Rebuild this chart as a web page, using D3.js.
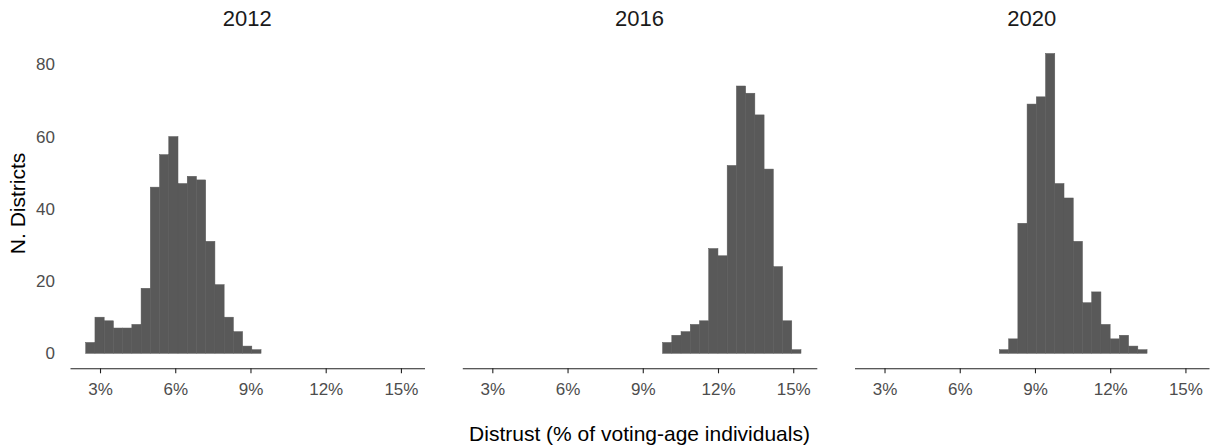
<!DOCTYPE html>
<html>
<head>
<meta charset="utf-8">
<script src="https://cdn.jsdelivr.net/npm/d3@7"></script>
<style>
  body { margin: 0; background: #fff; }
  svg { font-family: "Liberation Sans", Arial, Helvetica, sans-serif; }
</style>
</head>
<body>
<script>
// overall size of the picture
const width = 1217, height = 448;

// histogram bins (35 bins of equal width, in % of voting-age individuals)
const binStart = 2.43, binWidth = 0.368;
const years = [2012, 2016, 2020];

// counts per bin
const counts2012 = [3,10,9,7,7,8,18,46,55,60,47,49,48,31,19,10,6,2,1,0,0,0,0,0,0,0,0,0,0,0,0,0,0,0,0];
const counts2016 = [0,0,0,0,0,0,0,0,0,0,0,0,0,0,0,0,0,0,0,0,3,5,6,8,9,29,27,52,74,72,66,51,24,9,1];
const counts2020 = [0,0,0,0,0,0,0,0,0,0,0,0,0,0,1,4,36,69,71,83,47,43,31,14,17,8,4,5,2,1,0,0,0,0,0];

const xTicks = [3, 6, 9, 12, 15];
const yTicks = [0, 20, 40, 60, 80];

const countsByYear = { 2012: counts2012, 2016: counts2016, 2020: counts2020 };

// panel layout
const panelLeft = [70, 462.3, 854.5];
const panelWidth = 354.5;
const plotTop = 38.5, plotBottom = 368.3;

const svg = d3.select("body").append("svg")
  .attr("width", width)
  .attr("height", height);

// shared scales
const x = d3.scaleLinear().domain([1.803, 15.94]).range([0, panelWidth]);
const y = d3.scaleLinear().domain([-4.15, 87.15]).range([plotBottom, plotTop]);

years.forEach((year, i) => {
  const g = svg.append("g").attr("transform", `translate(${panelLeft[i]},0)`);

  // bins with their counts
  const bins = countsByYear[year].map((c, k) => ({
    x0: binStart + k * binWidth,
    x1: binStart + (k + 1) * binWidth,
    count: c
  })).filter(d => d.count > 0);

  // stroke in the same colour hides the seams between neighbouring bars
  g.selectAll("rect.bar")
    .data(bins)
    .enter()
    .append("rect")
    .attr("class", "bar")
    .attr("x", d => x(d.x0))
    .attr("width", d => x(d.x1) - x(d.x0))
    .attr("y", d => y(d.count))
    .attr("height", d => y(0) - y(d.count))
    .attr("fill", "#595959")
    .attr("stroke", "#595959")
    .attr("stroke-width", 0.5);

  // x axis
  const xAxis = g.append("g")
    .attr("transform", `translate(0,${plotBottom})`)
    .call(d3.axisBottom(x).tickValues(xTicks).tickFormat(d => d + "%")
      .tickSize(5).tickSizeOuter(0).tickPadding(10));
  xAxis.select(".domain").attr("stroke", "#222").attr("stroke-width", 1.1);
  xAxis.selectAll(".tick line").attr("stroke", "#222").attr("stroke-width", 1.1);
  xAxis.selectAll("text").attr("font-size", 17).attr("fill", "#4d4d4d")
    .attr("font-family", "Liberation Sans, Arial, sans-serif");

  // facet title
  g.append("text")
    .attr("x", panelWidth / 2)
    .attr("y", 26)
    .attr("text-anchor", "middle")
    .attr("font-size", 22)
    .attr("fill", "#1a1a1a")
    .text(year);

  // y axis labels only on the first panel
  if (i === 0) {
    const yAxis = g.append("g")
      .call(d3.axisLeft(y).tickValues(yTicks).tickSize(0).tickPadding(15));
    yAxis.select(".domain").remove();
    yAxis.selectAll("text").attr("font-size", 17).attr("fill", "#4d4d4d")
      .attr("font-family", "Liberation Sans, Arial, sans-serif");
  }
});

// axis titles
svg.append("text")
  .attr("x", (panelLeft[0] + panelLeft[2] + panelWidth) / 2)
  .attr("y", 441)
  .attr("text-anchor", "middle")
  .attr("font-size", 21)
  .attr("fill", "#000")
  .text("Distrust (% of voting-age individuals)");

svg.append("text")
  .attr("transform", `translate(25,${(plotTop + plotBottom) / 2}) rotate(-90)`)
  .attr("text-anchor", "middle")
  .attr("font-size", 21)
  .attr("fill", "#000")
  .text("N. Districts");
</script>
</body>
</html>
